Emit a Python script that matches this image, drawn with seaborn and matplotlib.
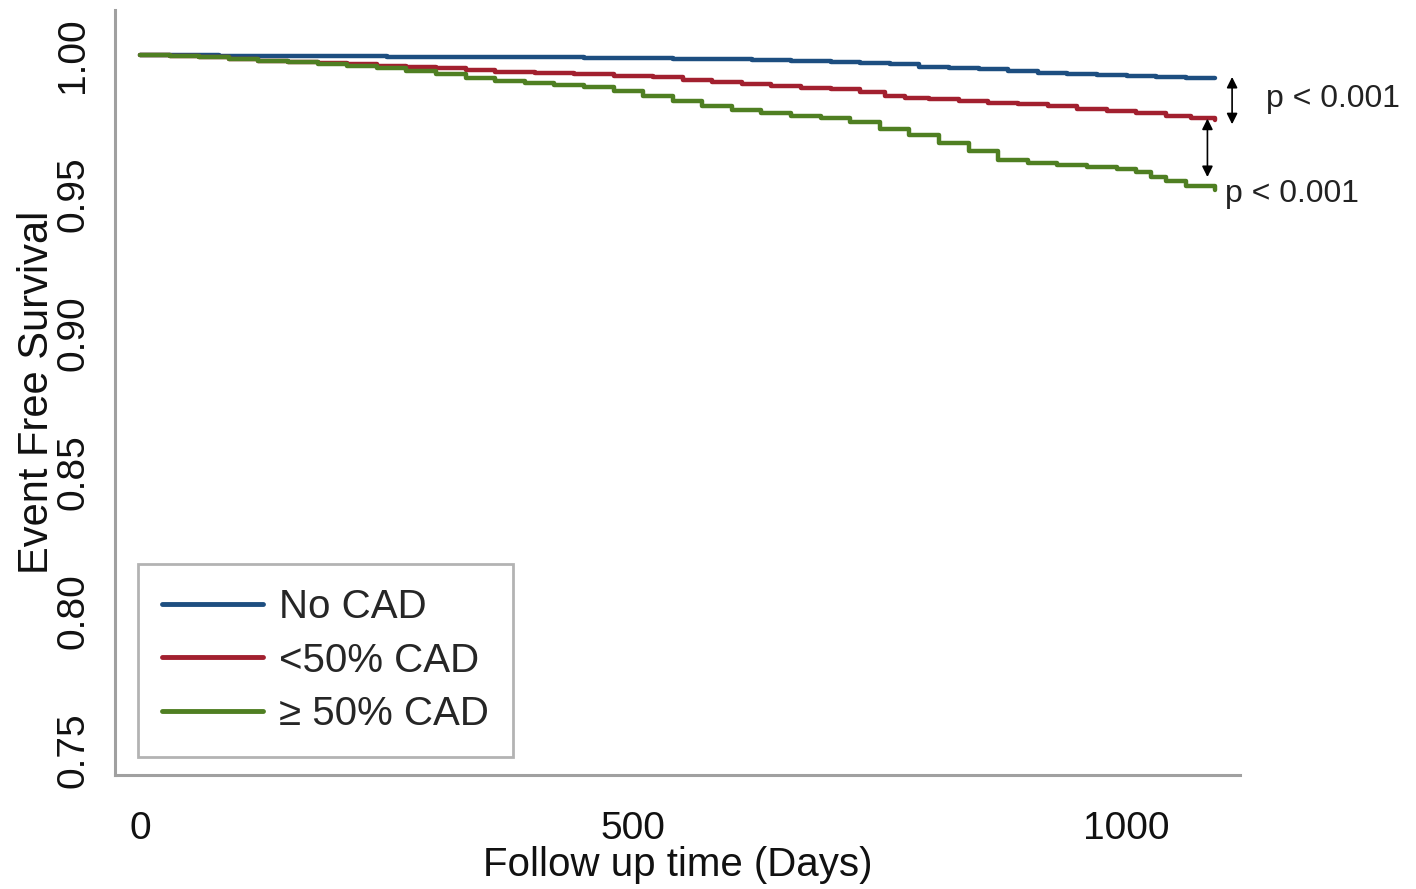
import numpy as np
import pandas as pd
import matplotlib
matplotlib.use("Agg")
import matplotlib.pyplot as plt
import seaborn as sns

groups = ["No CAD", "<50% CAD", "\u2265 50% CAD"]
colors = ["#1d4e80", "#a2202f", "#4f7f22"]

days_no = [0, 40, 80, 120, 160, 200, 250, 300, 350, 400, 450, 500, 540, 580, 620, 660,
           700, 730, 760, 790, 820, 850, 880, 910, 940, 970, 1000, 1030, 1060, 1090]
surv_no = [1.0, 0.9999, 0.9998, 0.9997, 0.9996, 0.9995, 0.9994, 0.9993, 0.9992, 0.9991,
           0.999, 0.9988, 0.9986, 0.9984, 0.9981, 0.9978, 0.9975, 0.9971, 0.9966, 0.9957,
           0.9953, 0.995, 0.9942, 0.9937, 0.9932, 0.9929, 0.9926, 0.9921, 0.9918, 0.9916]

days_lt50 = [0, 30, 60, 90, 120, 150, 180, 210, 240, 270, 300, 330, 360, 400, 440, 480,
             520, 550, 580, 610, 640, 670, 700, 730, 755, 775, 800, 830, 860, 890, 920,
             950, 980, 1010, 1040, 1065, 1090]
surv_lt50 = [1.0, 0.9996, 0.9992, 0.9986, 0.998, 0.9976, 0.9972, 0.9967, 0.9962, 0.9957,
             0.9952, 0.9946, 0.994, 0.9935, 0.993, 0.9925, 0.992, 0.991, 0.9902, 0.9895,
             0.9889, 0.9882, 0.9876, 0.9868, 0.9852, 0.9845, 0.984, 0.9834, 0.9829, 0.9823,
             0.9815, 0.9806, 0.9799, 0.9792, 0.9782, 0.9774, 0.9766]

days_ge50 = [0, 30, 60, 90, 120, 150, 180, 210, 240, 270, 300, 330, 360, 390, 420, 450,
             480, 510, 540, 570, 600, 630, 660, 690, 720, 750, 780, 810, 840, 870, 900,
             930, 960, 990, 1010, 1025, 1040, 1060, 1090]
surv_ge50 = [1.0, 0.9996, 0.9992, 0.9987, 0.998, 0.9973, 0.9967, 0.9961, 0.9952, 0.9942,
             0.9932, 0.9918, 0.9908, 0.99, 0.9893, 0.9885, 0.9872, 0.9852, 0.9835, 0.9815,
             0.9803, 0.9793, 0.9782, 0.9773, 0.9758, 0.9735, 0.9712, 0.9685, 0.9655, 0.9622,
             0.9612, 0.9605, 0.9598, 0.959, 0.9578, 0.956, 0.9545, 0.953, 0.9516]

x_ticks = [0, 500, 1000]
y_ticks = [0.75, 0.80, 0.85, 0.90, 0.95, 1.00]
p_labels = ["p < 0.001", "p < 0.001"]

df = pd.concat([
    pd.DataFrame({"days": days_no, "surv": surv_no, "group": groups[0]}),
    pd.DataFrame({"days": days_lt50, "surv": surv_lt50, "group": groups[1]}),
    pd.DataFrame({"days": days_ge50, "surv": surv_ge50, "group": groups[2]}),
])

sns.set_style("white")
plt.rcParams["font.family"] = ["Liberation Sans", "DejaVu Sans"]

fig = plt.figure(figsize=(14.16, 8.89), dpi=100)
ax = fig.add_axes([0.0812, 0.1282, 0.7945, 0.8606])

sns.lineplot(data=df, x="days", y="surv", hue="group", hue_order=groups,
             palette=colors, drawstyle="steps-post", linewidth=3.2, ax=ax,
             estimator=None, sort=False)

ax.set_xlim(-25.3, 1115)
ax.set_ylim(0.741, 1.0162)
ax.set_xticks(x_ticks)
ax.set_xticklabels([str(t) for t in x_ticks])
ax.set_yticks(y_ticks)
ax.set_yticklabels([f"{t:.2f}" for t in y_ticks], rotation=90, va="center")

for s in ["top", "right"]:
    ax.spines[s].set_visible(False)
for s in ["left", "bottom"]:
    ax.spines[s].set_color("#a0a0a0")
    ax.spines[s].set_linewidth(2.2)

ax.tick_params(axis="both", which="major", direction="out", length=9, width=1.5,
               color="#a0a0a0", labelsize=28, labelcolor="#111111", pad=8)
ax.tick_params(axis="x", pad=17)

ax.set_xlabel("Follow up time (Days)", fontsize=29, color="#111111", labelpad=-1)
ax.set_ylabel("Event Free Survival", fontsize=30, color="#111111", labelpad=-1)

# arrows between curve ends
ax.annotate("", xy=(1107, surv_no[-1] + 0.0005), xytext=(1107, surv_lt50[-1] - 0.0015),
            arrowprops=dict(arrowstyle="<|-|>", color="black", lw=1.2,
                            mutation_scale=16, shrinkA=0, shrinkB=0))
ax.annotate("", xy=(1082, surv_lt50[-1] + 0.0005), xytext=(1082, surv_ge50[-1] + 0.0045),
            arrowprops=dict(arrowstyle="<|-|>", color="black", lw=1.2,
                            mutation_scale=16, shrinkA=0, shrinkB=0))
ax.text(1141, (surv_no[-1] + surv_lt50[-1]) / 2, p_labels[0], fontsize=23,
        color="#222222", va="center", ha="left", clip_on=False)
ax.text(1100, surv_ge50[-1] - 0.0015, p_labels[1], fontsize=23,
        color="#222222", va="center", ha="left", clip_on=False)

leg = ax.legend(loc="lower left", bbox_to_anchor=(0.0975, 0.1485),
                bbox_transform=fig.transFigure, fontsize=29, frameon=True,
                fancybox=False, handlelength=2.5, handletextpad=0.4,
                borderpad=0.6, labelspacing=0.38, borderaxespad=0)
leg.get_frame().set_edgecolor("#a0a0a0")
leg.get_frame().set_linewidth(2.0)
for line in leg.get_lines():
    line.set_linewidth(3.5)
fig.canvas.draw()
# widen the frame on the right to match the reference box
bb = leg.get_window_extent()
leg._legend_box.set_offset  # keep default layout
leg.get_frame().set_width(bb.width + 14)

fig.savefig("out.png", dpi=100)
